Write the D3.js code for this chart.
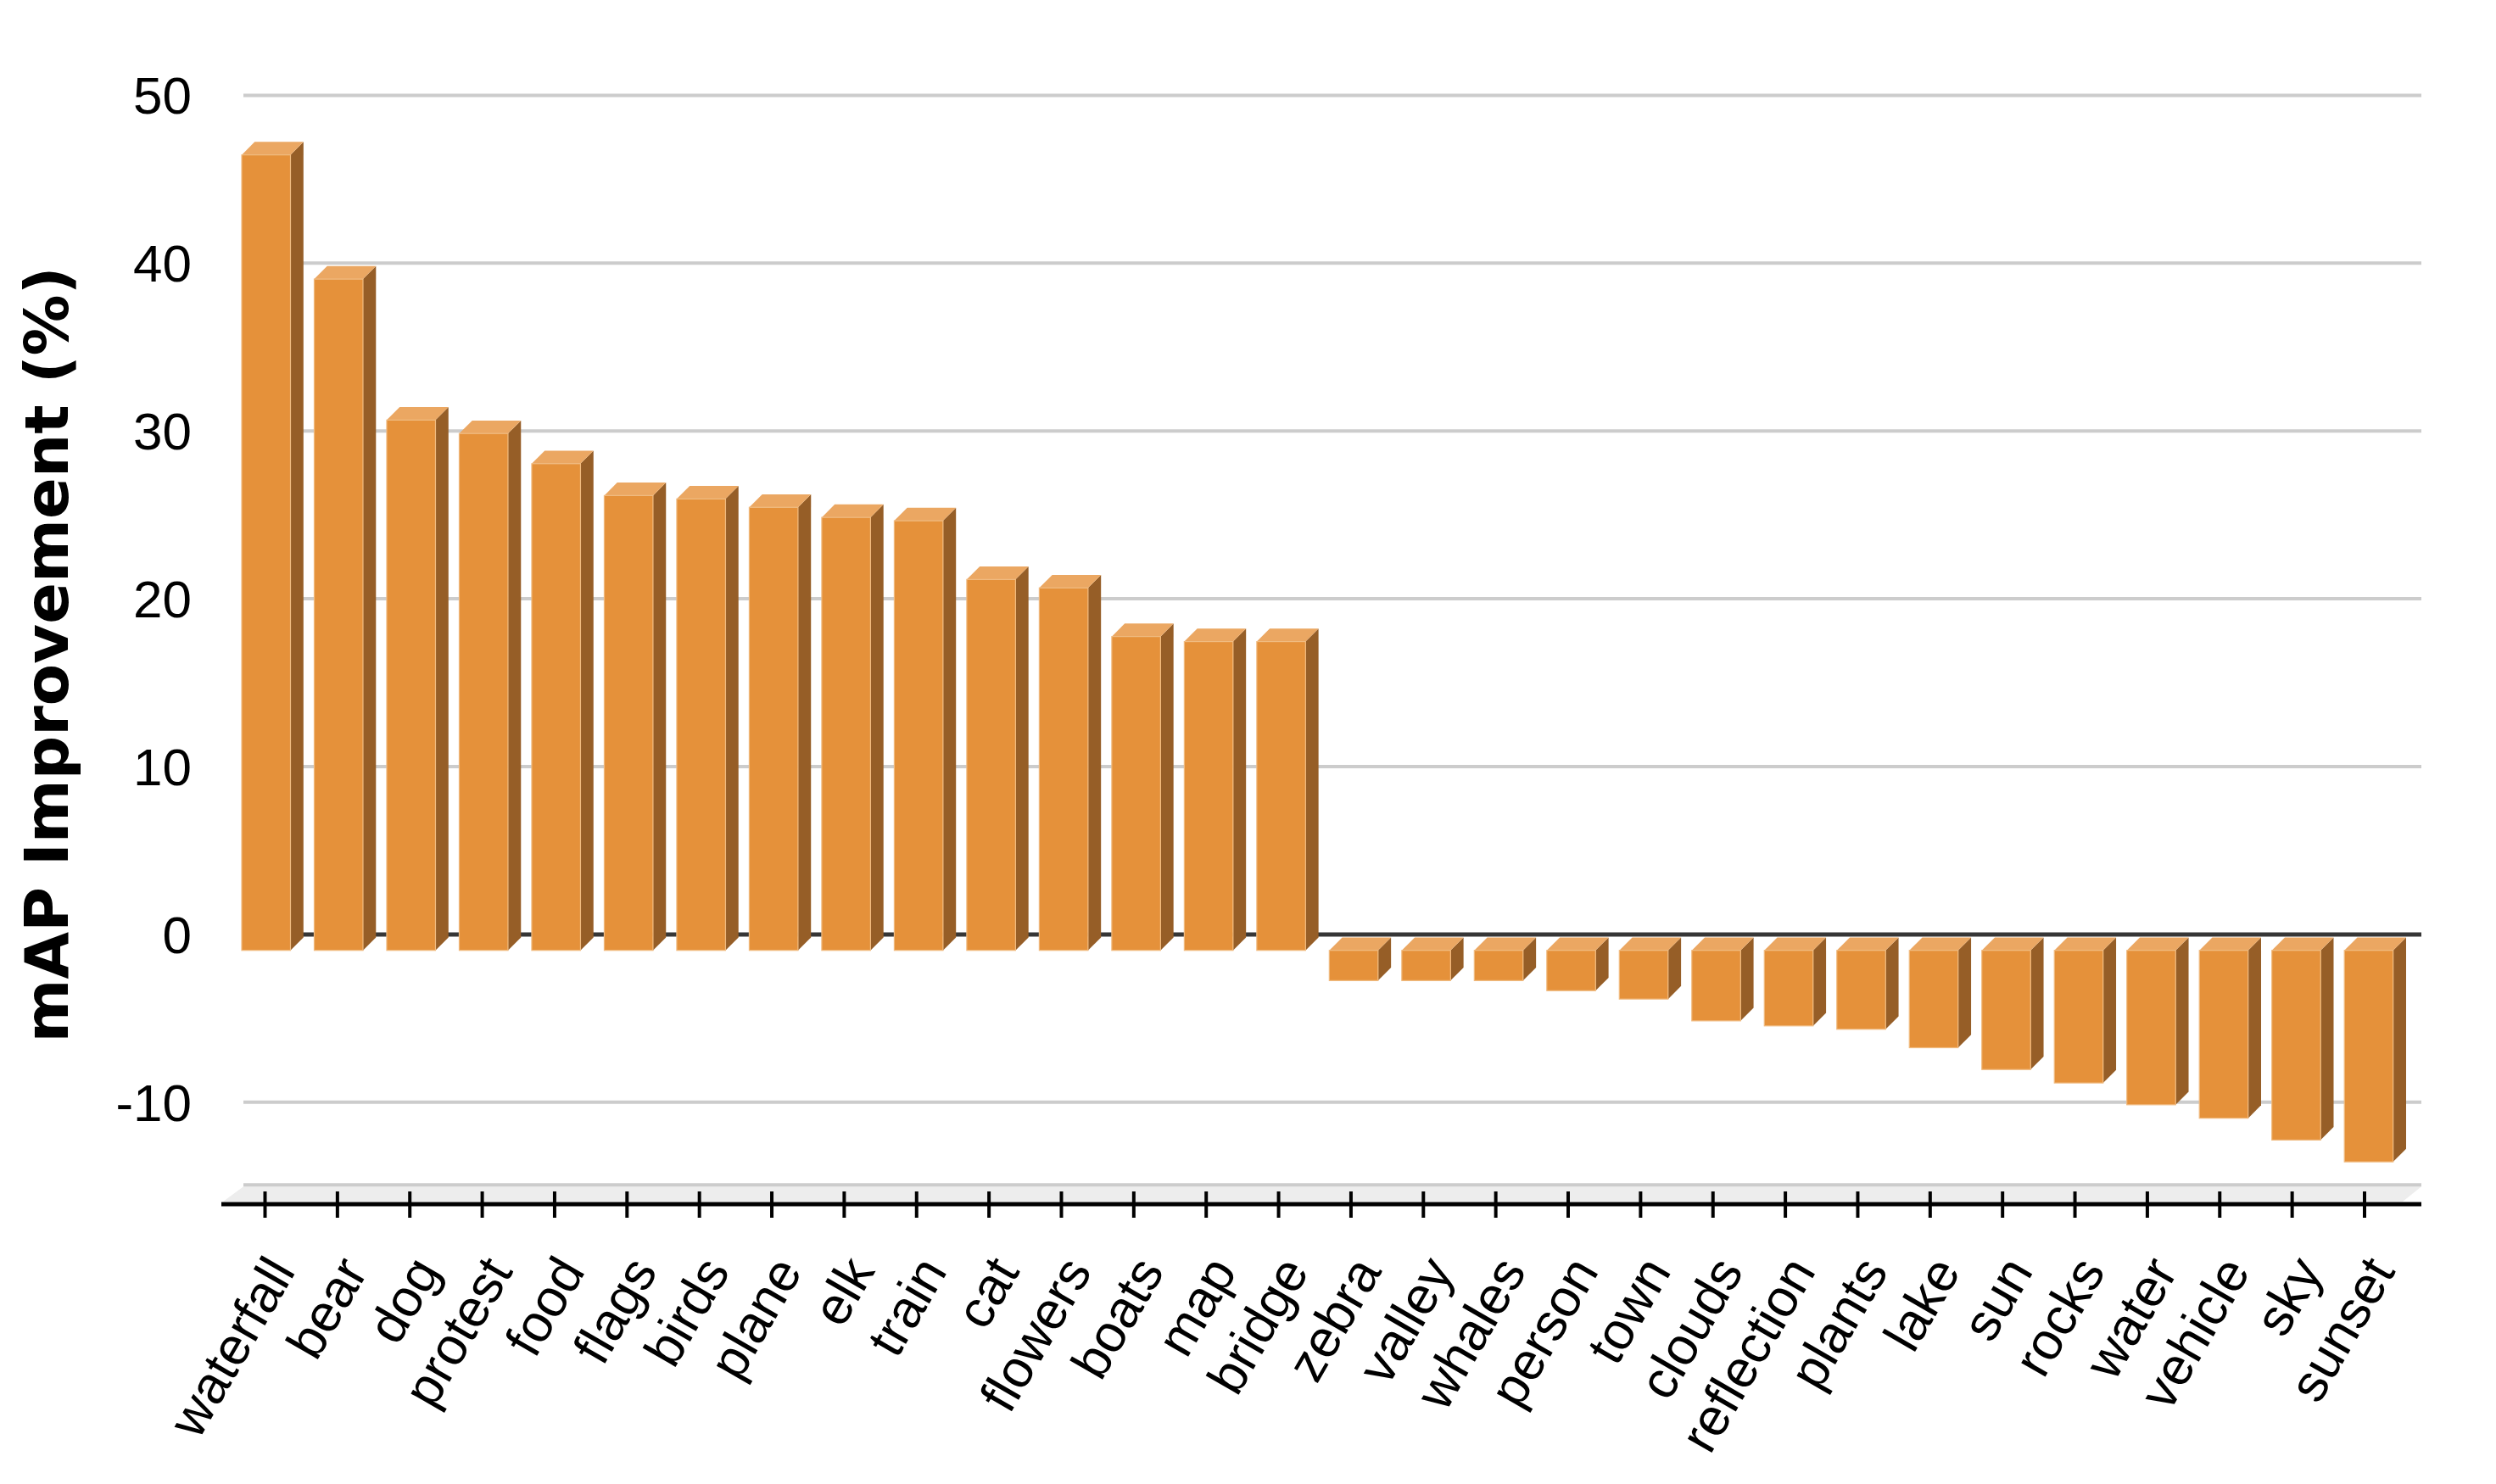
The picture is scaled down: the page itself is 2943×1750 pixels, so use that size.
<!DOCTYPE html>
<html>
<head>
<meta charset="utf-8">
<script src="https://cdn.jsdelivr.net/npm/d3@7"></script>
<style>
  html, body { margin: 0; padding: 0; background: #ffffff; }
  svg { display: block; }
</style>
</head>
<body>
<script>
// ---------- data ----------
const categories = ["waterfall","bear","dog","protest","food","flags","birds","plane","elk","train",
  "cat","flowers","boats","map","bridge","zebra","valley","whales","person","town",
  "clouds","reflection","plants","lake","sun","rocks","water","vehicle","sky","sunset"];
const values = [47.4, 40.0, 31.6, 30.8, 29.0, 27.1, 26.9, 26.4, 25.8, 25.6,
  22.1, 21.6, 18.7, 18.4, 18.4, -1.8, -1.8, -1.8, -2.4, -2.9,
  -4.2, -4.5, -4.7, -5.8, -7.1, -7.9, -9.2, -10.0, -11.3, -12.6];
const yTicks = [-10, 0, 10, 20, 30, 40, 50];
const yTitle = "mAP Improvement (%)";

// ---------- layout ----------
const W = 2943, H = 1750;
const svg = d3.select("body").append("svg").attr("width", W).attr("height", H);

const y = d3.scaleLinear().domain([-15, 50]).range([1402.3, 115.9]);
const x = d3.scaleBand().domain(categories).range([271, 2835.7]).paddingInner(0.3274).paddingOuter(0.1637);
const xt = d3.scalePoint().domain(categories).range([312.5, 2788]);

const depth = 15.3;        // 3-D offset (right / up)
const gridOff = 3.5;       // wall lines drawn slightly above bar plane
const wallL = 287, wallR = 2855;

const col = { front: "#E5913A", top: "#EBA762", side: "#965E27", edge: "#F0BB80" };

// floor
const floorBack = y(-15) - 3, floorFront = 1417;
svg.append("polygon")
  .attr("points", [[wallL, floorBack], [wallR, floorBack], [2833, floorFront], [263, floorFront]].map(p => p.join(",")).join(" "))
  .attr("fill", "#EDEDED");

// gridlines (incl. bottom wall line)
svg.append("g").selectAll("line").data([-15, ...yTicks.filter(t => t !== 0)]).join("line")
  .attr("x1", wallL).attr("x2", wallR)
  .attr("y1", d => y(d) - gridOff - (d === -15 ? 1.5 : 0))
  .attr("y2", d => y(d) - gridOff - (d === -15 ? 1.5 : 0))
  .attr("stroke", "#CCCCCC").attr("stroke-width", 4);

// zero line
svg.append("line")
  .attr("x1", wallL).attr("x2", wallR)
  .attr("y1", y(0) - gridOff).attr("y2", y(0) - gridOff)
  .attr("stroke", "#363636").attr("stroke-width", 5);

// y tick labels
svg.append("g").selectAll("text").data(yTicks).join("text")
  .attr("x", 226).attr("y", d => y(d) - gridOff)
  .attr("dy", "0.355em")
  .attr("text-anchor", "end")
  .attr("font-family", "'Liberation Sans', Arial, sans-serif")
  .attr("font-size", 62)
  .attr("fill", "#000")
  .text(d => d);

// y title
svg.append("text")
  .attr("transform", `translate(80, 772) rotate(-90)`)
  .attr("text-anchor", "middle")
  .attr("font-family", "'DejaVu Sans', Verdana, sans-serif")
  .attr("font-weight", "bold")
  .attr("font-size", 72)
  .attr("fill", "#000")
  .text(yTitle);

// bars
const bars = svg.append("g").selectAll("g").data(categories.map((c, i) => ({ c, v: values[i] }))).join("g");
bars.each(function(d) {
  const g = d3.select(this);
  const x0 = x(d.c), x1 = x0 + x.bandwidth();
  const bv = y(d.v), b0 = y(0);            // back plane
  const topB = Math.min(bv, b0), botB = Math.max(bv, b0);
  const topF = topB + depth, botF = botB + depth;  // front plane
  // side face
  g.append("polygon")
    .attr("points", [[x1, topF], [x1 + depth, topB], [x1 + depth, botB], [x1, botF]].map(p => p.join(",")).join(" "))
    .attr("fill", col.side);
  // top face
  g.append("polygon")
    .attr("points", [[x0, topF], [x0 + depth, topB], [x1 + depth, topB], [x1, topF]].map(p => p.join(",")).join(" "))
    .attr("fill", col.top);
  // front face
  g.append("rect")
    .attr("x", x0).attr("y", topF)
    .attr("width", x.bandwidth()).attr("height", botF - topF)
    .attr("fill", col.front)
    .attr("stroke", col.edge).attr("stroke-width", 1.2);
});

// x axis line and ticks
svg.append("line")
  .attr("x1", 261).attr("x2", wallR).attr("y1", 1420).attr("y2", 1420)
  .attr("stroke", "#000").attr("stroke-width", 5);
svg.append("g").selectAll("line").data(categories).join("line")
  .attr("x1", d => xt(d)).attr("x2", d => xt(d))
  .attr("y1", 1405).attr("y2", 1436)
  .attr("stroke", "#000").attr("stroke-width", 4);

// category labels
svg.append("g").selectAll("text").data(categories).join("text")
  .attr("transform", d => `translate(${xt(d) + 37}, 1499) rotate(-60)`)
  .attr("text-anchor", "end")
  .attr("font-family", "'Liberation Sans', Arial, sans-serif")
  .attr("font-size", 62)
  .attr("fill", "#000")
  .text(d => d);
</script>
</body>
</html>
